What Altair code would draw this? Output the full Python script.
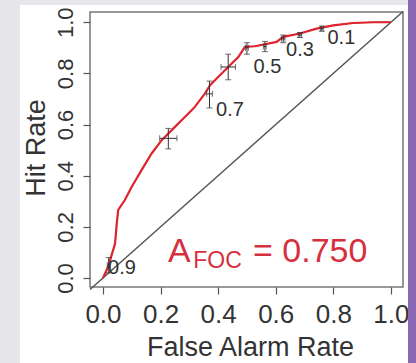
import altair as alt
import pandas as pd

# ROC curve (false alarm rate, hit rate)
far = [0, 0.018, 0.042, 0.048, 0.053, 0.076, 0.1, 0.134, 0.169, 0.204, 0.25, 0.273,
       0.308, 0.319, 0.354, 0.372, 0.4, 0.435, 0.47, 0.493, 0.528, 0.545, 0.603,
       0.626, 0.684, 0.742, 0.8, 0.869, 0.939, 1.0]
hit = [0, 0.044, 0.135, 0.214, 0.266, 0.305, 0.357, 0.422, 0.487, 0.539, 0.591, 0.617,
       0.656, 0.669, 0.721, 0.754, 0.786, 0.825, 0.864, 0.904, 0.906, 0.91, 0.923,
       0.943, 0.956, 0.975, 0.988, 0.997, 1.0, 1.0]

# thresholds with confidence bars
thresholds = [0.9, 0.8, 0.7, 0.6, 0.5, 0.4, 0.3, 0.2, 0.1]
th_x = [0.02, 0.227, 0.37, 0.435, 0.5, 0.5625, 0.626, 0.684, 0.76]
th_y = [0.05, 0.546, 0.72, 0.825, 0.9, 0.905, 0.935, 0.95, 0.975]
th_ylo = [0.02, 0.505, 0.665, 0.775, 0.875, 0.885, 0.92, 0.94, 0.965]
th_yhi = [0.08, 0.585, 0.77, 0.875, 0.92, 0.925, 0.95, 0.96, 0.985]
th_xlo = [0.015, 0.197, 0.36, 0.41, 0.495, 0.557, 0.62, 0.678, 0.755]
th_xhi = [0.025, 0.257, 0.38, 0.46, 0.505, 0.567, 0.632, 0.69, 0.765]

# threshold labels (data coordinates)
lab_text = ["0.9", "0.7", "0.5", "0.3", "0.1"]
lab_x = [0.066, 0.441, 0.571, 0.684, 0.828]
lab_y = [0.039, 0.656, 0.826, 0.891, 0.939]

# area annotation pieces
ann_text = ["A", "FOC", "= 0.750"]
ann_x = [0.226, 0.3135, 0.521]
ann_y = [0.064, 0.038, 0.064]
ann_size = [34, 23, 34]

ticks = [0.0, 0.2, 0.4, 0.6, 0.8, 1.0]
diag = [-0.045, 1.042]

FONT = "Liberation Sans"
RED = "#e0242f"
TXTRED = "#d6303f"

xs = alt.Scale(domain=[-0.045, 1.042], nice=False, zero=False)
ys = alt.Scale(domain=[-0.035, 1.04], nice=False, zero=False)

curve = pd.DataFrame({"far": far, "hit": hit, "i": range(len(far))})
th = pd.DataFrame({"t": thresholds, "x": th_x, "y": th_y, "ylo": th_ylo,
                   "yhi": th_yhi, "xlo": th_xlo, "xhi": th_xhi})
labs = pd.DataFrame({"t": lab_text, "x": lab_x, "y": lab_y})
ann = pd.DataFrame({"t": ann_text, "x": ann_x, "y": ann_y, "s": ann_size})
dg = pd.DataFrame({"x": diag, "y": diag})
one = pd.DataFrame({"a": [0]})

xaxis = alt.Axis(values=ticks, format=".1f", title="False Alarm Rate",
                 labelFontSize=26, titleFontSize=27, labelFont=FONT, titleFont=FONT,
                 labelColor="#333333", titleColor="#333333", titleFontWeight="normal",
                 tickSize=7, tickColor="#555555", tickWidth=1.2, domain=False, grid=False,
                 labelPadding=7, labelFlush=False, labelOverlap=False,
                 titleX=160, titleY=68, titleBaseline="alphabetic", titleAlign="center")
yaxis = alt.Axis(values=ticks, format=".1f", title="Hit Rate",
                 labelFontSize=22, titleFontSize=27, labelFont=FONT, titleFont=FONT,
                 labelColor="#333333", titleColor="#333333", titleFontWeight="normal",
                 tickSize=7, tickColor="#555555", tickWidth=1.2, domain=False, grid=False,
                 labelAngle=270, labelAlign="center", labelBaseline="alphabetic",
                 labelPadding=11, labelFlush=False, labelOverlap=False,
                 titleAngle=270, titleX=-46, titleY=135.5, titleBaseline="alphabetic",
                 titleAlign="center")

base_x = alt.X("x:Q", scale=xs, axis=xaxis)
base_y = alt.Y("y:Q", scale=ys, axis=yaxis)

diag_line = alt.Chart(dg).mark_line(color="#555555", strokeWidth=1.5).encode(
    x=base_x, y=base_y)

black_curve = alt.Chart(curve).mark_line(color="#222222", strokeWidth=1).encode(
    x=alt.X("far:Q", scale=xs), y=alt.Y("hit:Q", scale=ys), order="i:Q")
red_curve = alt.Chart(curve).mark_line(color=RED, strokeWidth=2.2).encode(
    x=alt.X("far:Q", scale=xs), y=alt.Y("hit:Q", scale=ys), order="i:Q")

vbar = alt.Chart(th).mark_rule(color="#333333", strokeWidth=1).encode(
    x=alt.X("x:Q", scale=xs), y=alt.Y("ylo:Q", scale=ys), y2="yhi:Q")
hbar = alt.Chart(th).mark_rule(color="#333333", strokeWidth=1).encode(
    x=alt.X("xlo:Q", scale=xs), x2="xhi:Q", y=alt.Y("y:Q", scale=ys))
vcap_lo = alt.Chart(th).mark_tick(color="#333333", orient="horizontal", size=6, thickness=1).encode(
    x=alt.X("x:Q", scale=xs), y=alt.Y("ylo:Q", scale=ys))
vcap_hi = alt.Chart(th).mark_tick(color="#333333", orient="horizontal", size=6, thickness=1).encode(
    x=alt.X("x:Q", scale=xs), y=alt.Y("yhi:Q", scale=ys))
hcap_lo = alt.Chart(th).mark_tick(color="#333333", orient="vertical", size=6, thickness=1).encode(
    x=alt.X("xlo:Q", scale=xs), y=alt.Y("y:Q", scale=ys))
hcap_hi = alt.Chart(th).mark_tick(color="#333333", orient="vertical", size=6, thickness=1).encode(
    x=alt.X("xhi:Q", scale=xs), y=alt.Y("y:Q", scale=ys))

labels = alt.Chart(labs).mark_text(font=FONT, fontSize=20, color="#333333",
                                   align="center", baseline="middle").encode(
    x=alt.X("x:Q", scale=xs), y=alt.Y("y:Q", scale=ys), text="t:N")

annot = alt.Chart(ann).mark_text(font=FONT, color=TXTRED, align="left",
                                 baseline="alphabetic").encode(
    x=alt.X("x:Q", scale=xs), y=alt.Y("y:Q", scale=ys), text="t:N",
    size=alt.Size("s:Q", scale=None, legend=None))

# page decoration: grey strip at left/top, purple strip at right
band_left = alt.Chart(one).mark_rect(color="#e6e6eb").encode(
    x=alt.value(-90), x2=alt.value(-70), y=alt.value(-12), y2=alt.value(351))
band_top = alt.Chart(one).mark_rect(color="#e6e6eb").encode(
    x=alt.value(-90), x2=alt.value(326), y=alt.value(-12), y2=alt.value(-7))
band_right = alt.Chart(one).mark_rect(color="#8b68b3").encode(
    x=alt.value(318), x2=alt.value(326), y=alt.value(-12), y2=alt.value(351))

chart = alt.layer(
    band_left, band_top, band_right,
    diag_line, black_curve, red_curve,
    vbar, hbar, vcap_lo, vcap_hi, hcap_lo, hcap_hi,
    labels, annot
).properties(
    width=313, height=275,
    autosize=alt.AutoSizeParams(type="none"),
    padding={"left": 90, "top": 12, "right": 13, "bottom": 76},
    background="white",
).configure_view(stroke="#777777", strokeWidth=1.5, fill="white")

chart.save("out.html", embed_options={"renderer": "svg", "actions": False})
